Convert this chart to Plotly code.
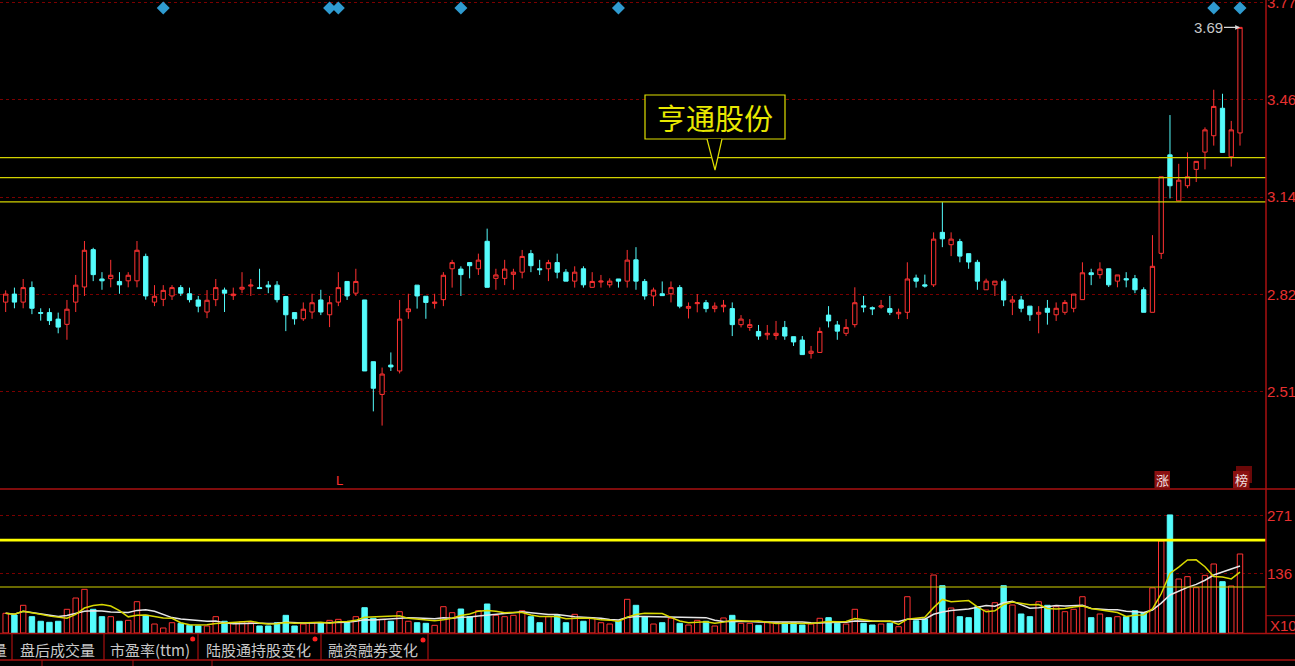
import plotly.graph_objects as go
import pandas as pd

# ---------------- data ----------------
days = list(range(142))
opens = [2.800,2.826,2.800,2.847,2.766,2.766,2.745,2.728,2.800,2.849,
         2.970,2.875,2.876,2.867,2.869,2.869,2.948,2.800,2.809,2.820,
         2.847,2.827,2.807,2.768,2.808,2.839,2.821,2.842,2.852,2.847,
         2.855,2.855,2.818,2.766,2.746,2.768,2.807,2.759,2.800,2.867,
         2.829,2.807,2.607,2.501,2.596,2.577,2.769,2.855,2.819,2.796,
         2.808,2.908,2.907,2.928,2.908,2.997,2.877,2.877,2.890,2.897,
         2.957,2.908,2.908,2.928,2.897,2.868,2.908,2.848,2.865,2.856,
         2.875,2.868,2.937,2.867,2.820,2.827,2.827,2.847,2.780,2.795,
         2.798,2.779,2.785,2.779,2.727,2.718,2.705,2.694,2.692,2.718,
         2.688,2.677,2.634,2.637,2.758,2.726,2.699,2.727,2.788,2.782,
         2.784,2.779,2.762,2.767,2.878,2.856,2.856,3.026,2.986,2.996,
         2.957,2.929,2.840,2.856,2.868,2.800,2.807,2.787,2.761,2.780,
         2.759,2.767,2.780,2.808,2.895,2.889,2.908,2.868,2.876,2.876,
         2.840,2.767,2.958,3.277,3.128,3.177,3.230,3.286,3.339,3.428,
         3.271,3.348]
highs = [2.838,2.847,2.875,2.867,2.780,2.780,2.766,2.807,2.888,2.998,
         2.976,2.897,2.937,2.897,2.897,2.998,2.957,2.855,2.855,2.855,
         2.855,2.847,2.820,2.839,2.875,2.847,2.847,2.897,2.875,2.908,
         2.868,2.868,2.820,2.766,2.799,2.827,2.840,2.820,2.897,2.867,
         2.908,2.807,2.607,2.588,2.637,2.807,2.827,2.855,2.819,2.827,
         2.897,2.937,2.916,2.928,2.957,3.038,2.908,2.937,2.908,2.969,
         2.969,2.937,2.937,2.957,2.907,2.916,2.916,2.897,2.888,2.877,
         2.875,2.969,2.978,2.875,2.847,2.867,2.867,2.855,2.799,2.826,
         2.807,2.799,2.807,2.799,2.758,2.745,2.726,2.726,2.739,2.739,
         2.688,2.690,2.658,2.718,2.787,2.739,2.745,2.848,2.820,2.786,
         2.807,2.820,2.779,2.929,2.889,2.889,3.026,3.124,3.026,3.005,
         2.957,2.937,2.876,2.868,2.876,2.820,2.820,2.787,2.787,2.807,
         2.799,2.807,2.826,2.929,2.908,2.929,2.908,2.888,2.897,2.888,
         2.848,3.017,3.206,3.406,3.248,3.285,3.256,3.366,3.488,3.475,
         3.387,3.690]
lows = [2.768,2.780,2.780,2.761,2.740,2.726,2.699,2.678,2.768,2.820,
        2.868,2.840,2.848,2.827,2.848,2.848,2.808,2.787,2.787,2.807,
        2.820,2.799,2.767,2.748,2.787,2.768,2.807,2.829,2.820,2.843,
        2.829,2.799,2.706,2.727,2.739,2.746,2.758,2.719,2.787,2.807,
        2.820,2.577,2.446,2.400,2.577,2.569,2.746,2.779,2.746,2.779,
        2.787,2.847,2.820,2.877,2.888,2.848,2.840,2.855,2.840,2.877,
        2.897,2.888,2.868,2.877,2.868,2.847,2.847,2.847,2.847,2.847,
        2.847,2.847,2.840,2.808,2.787,2.820,2.799,2.780,2.747,2.767,
        2.767,2.767,2.767,2.690,2.718,2.707,2.678,2.678,2.678,2.678,
        2.658,2.630,2.617,2.637,2.718,2.678,2.690,2.718,2.767,2.758,
        2.779,2.758,2.745,2.745,2.847,2.847,2.849,2.978,2.949,2.929,
        2.908,2.840,2.840,2.820,2.787,2.758,2.767,2.739,2.699,2.727,
        2.739,2.759,2.767,2.808,2.855,2.876,2.849,2.848,2.848,2.829,
        2.767,2.767,2.940,3.136,3.128,3.169,3.189,3.230,3.307,3.285,
        3.239,3.307]
closes = [2.826,2.800,2.847,2.780,2.764,2.740,2.719,2.777,2.855,2.968,
          2.889,2.869,2.887,2.856,2.887,2.968,2.820,2.819,2.838,2.847,
          2.829,2.808,2.787,2.806,2.847,2.829,2.826,2.848,2.855,2.844,
          2.849,2.808,2.759,2.746,2.777,2.798,2.768,2.798,2.847,2.820,
          2.867,2.577,2.521,2.567,2.590,2.745,2.778,2.820,2.799,2.800,
          2.887,2.928,2.889,2.918,2.936,2.848,2.888,2.907,2.897,2.948,
          2.918,2.905,2.928,2.897,2.868,2.897,2.856,2.867,2.868,2.868,
          2.868,2.936,2.868,2.820,2.839,2.821,2.847,2.787,2.786,2.798,
          2.779,2.787,2.790,2.727,2.745,2.727,2.690,2.699,2.699,2.690,
          2.671,2.630,2.641,2.705,2.739,2.706,2.718,2.798,2.784,2.778,
          2.788,2.767,2.767,2.875,2.868,2.852,3.004,3.005,3.004,2.949,
          2.930,2.868,2.868,2.868,2.807,2.807,2.780,2.759,2.767,2.767,
          2.780,2.799,2.826,2.895,2.889,2.907,2.856,2.888,2.872,2.840,
          2.767,2.916,3.206,3.177,3.195,3.206,3.256,3.358,3.434,3.285,
          3.358,3.690]
volumes = [45.4,41.5,63.8,37.6,27,24.6,27,54.6,80.6,100.6,
           54.6,37.6,37.6,27,29.2,72.1,40.7,20.7,11.5,23.7,
           22.3,17.7,16.1,16.1,37.6,27,22.3,26,23.7,16.1,
           16.1,23.7,40.7,16.1,20.7,23.7,23.7,29.2,31.5,23.7,
           37.6,58.3,33.9,31.5,27,49.1,27,23.7,22.3,17.7,
           60.6,46.8,55.3,37.6,51.4,66.8,40.7,37.6,40.7,51.4,
           37.6,23.7,37.6,40.7,23.7,43,27,33.9,23.7,20.7,
           27,77.6,63.8,37.6,20.7,23.7,33.9,22.3,18.4,29.2,
           27,16.1,34.6,40.7,22.3,22.3,17.7,23.7,23.7,23.7,
           23.7,18.4,20.7,33.9,35.3,22.3,20.7,54.6,22.3,18.4,
           20.7,22.3,14.5,83.6,28.3,32.3,133.6,109,57.6,37.6,
           35.3,60.6,53,69.8,109,64.5,43.8,37.6,72.1,63.8,
           60.6,49.1,54.6,83.6,35.3,43.8,35.3,37.6,37.6,51.4,
           46.8,104,212,272,124.4,129.8,104.4,132.9,159,118.2,
           108.3,182]

price_ticks = [3.77, 3.455, 3.14, 2.825, 2.51]
price_tick_text = ["3.77", "3.46", "3.14", "2.82", "2.51"]
vol_ticks = [271, 136]
vol_tick_text = ["271", "136"]
price_levels = [3.268, 3.203, 3.125]
vol_levels = [214, 106]
signal_days = [18, 37, 38, 52, 70, 138, 141]
signal_level = 3.753
stock_name = "亨通股份"
last_label = "3.69"
tabs = ["盘后成交量", "市盈率(ttm)", "陆股通持股变化", "融资融券变化"]

# ---------------- styling ----------------
W, H = 1295, 666
PL, PR, PT, PB = 0, 29, 0, 33
PW, PH = W - PL - PR, H - PT - PB
UP = "#ff3232"
DOWN = "#54fcfc"
FRAME = "#a81010"
GRID = "#7a0000"
TXT_RED = "#e83030"
CJK = "Noto Sans CJK SC"
LAT = "Liberation Sans"


def px(x):
    return x / PW


def py(y):
    return (PH - y) / PH


vol_s = pd.Series(volumes)
ma5 = vol_s.rolling(5, min_periods=1).mean()
ma10 = vol_s.rolling(10, min_periods=1).mean()
is_up = [c >= o for o, c in zip(opens, closes)]

fig = go.Figure()

fig.add_trace(go.Candlestick(
    x=days, open=opens, high=highs, low=lows, close=closes,
    increasing=dict(line=dict(color=UP, width=1), fillcolor="#000000"),
    decreasing=dict(line=dict(color=DOWN, width=1), fillcolor=DOWN),
    whiskerwidth=0, xaxis="x", yaxis="y", hoverinfo="skip", showlegend=False))

fig.add_trace(go.Scatter(
    x=signal_days, y=[signal_level] * len(signal_days), mode="markers",
    marker=dict(symbol="diamond", size=10, color="#2f9bd0"),
    xaxis="x", yaxis="y", hoverinfo="skip", showlegend=False))

fig.add_trace(go.Bar(
    x=days, y=volumes, width=0.62,
    marker=dict(color=["#000000" if u else DOWN for u in is_up],
                line=dict(color=[UP if u else DOWN for u in is_up], width=1)),
    xaxis="x2", yaxis="y2", hoverinfo="skip", showlegend=False))

fig.add_trace(go.Scatter(x=days, y=ma10, mode="lines",
                         line=dict(color="#e6e6e6", width=1.5),
                         xaxis="x2", yaxis="y2", hoverinfo="skip", showlegend=False))
fig.add_trace(go.Scatter(x=days, y=ma5, mode="lines",
                         line=dict(color="#d8d800", width=1.5),
                         xaxis="x2", yaxis="y2", hoverinfo="skip", showlegend=False))

xr = [-0.648, 143.97]
split = py(489)
fig.update_layout(
    width=W, height=H,
    margin=dict(l=PL, r=PR, t=PT, b=PB, autoexpand=False),
    paper_bgcolor="#000000", plot_bgcolor="#000000",
    showlegend=False, boxgap=0.3,
    xaxis=dict(domain=[0, 1], range=xr, visible=False, rangeslider=dict(visible=False),
               anchor="y"),
    xaxis2=dict(domain=[0, 1], range=xr, visible=False, anchor="y2", matches="x"),
    yaxis=dict(domain=[split, 1], range=[2.1946, 3.7787], side="right",
               tickvals=price_ticks, ticktext=price_tick_text, ticks="",
               tickfont=dict(color=TXT_RED, size=15, family=LAT),
               ticklabeloverflow="allow", automargin=False,
               showgrid=True, gridcolor=GRID, griddash="dot", gridwidth=1,
               zeroline=False, showline=False, anchor="x"),
    yaxis2=dict(domain=[0, split], range=[0, 331.8], side="right",
                tickvals=vol_ticks, ticktext=vol_tick_text, ticks="",
                tickfont=dict(color=TXT_RED, size=15, family=LAT),
                ticklabeloverflow="allow", automargin=False,
                showgrid=True, gridcolor=GRID, griddash="dot", gridwidth=1,
                zeroline=False, showline=False, anchor="x2"),
)

shapes = []
for lv in price_levels:
    shapes.append(dict(type="line", xref="paper", yref="y", x0=0, x1=1, y0=lv, y1=lv,
                       line=dict(color="#d2d200", width=1.3)))
shapes.append(dict(type="line", xref="paper", yref="y2", x0=0, x1=1,
                   y0=vol_levels[0], y1=vol_levels[0], line=dict(color="#ffff00", width=2.6)))
shapes.append(dict(type="line", xref="paper", yref="y2", x0=0, x1=1,
                   y0=vol_levels[1], y1=vol_levels[1], line=dict(color="#d2d200", width=1.2)))
# frame lines
xe = px(W)
for yy in (489, 633.5, 660):
    shapes.append(dict(type="line", xref="paper", yref="paper", x0=0, x1=xe,
                       y0=py(yy), y1=py(yy), line=dict(color=FRAME, width=1.5)))
shapes.append(dict(type="line", xref="paper", yref="paper", x0=px(1266), x1=px(1266),
                   y0=py(0), y1=py(633.5), line=dict(color=FRAME, width=1.5)))
shapes.append(dict(type="line", xref="paper", yref="paper", x0=px(1266), x1=xe,
                   y0=py(615.7), y1=py(615.7), line=dict(color=FRAME, width=1)))
for xx in (12, 104, 198, 321, 428):
    shapes.append(dict(type="line", xref="paper", yref="paper", x0=px(xx), x1=px(xx),
                       y0=py(633.5), y1=py(660), line=dict(color=FRAME, width=1.2)))
for xx in (42, 133, 212):
    shapes.append(dict(type="line", xref="paper", yref="paper", x0=px(xx), x1=px(xx),
                       y0=py(660), y1=py(666), line=dict(color=FRAME, width=1)))
for (xx, yy) in ((192.7, 639), (315, 639), (423, 640)):
    shapes.append(dict(type="circle", xref="paper", yref="paper",
                       x0=px(xx - 2.5), x1=px(xx + 2.5), y0=py(yy + 2.5), y1=py(yy - 2.5),
                       fillcolor="#ff2020", line=dict(width=0)))
# name callout
shapes.append(dict(type="rect", xref="paper", yref="paper",
                   x0=px(645), x1=px(785), y0=py(139), y1=py(95),
                   fillcolor="#000000", line=dict(color="#e0e000", width=1.2)))
shapes.append(dict(type="path", xref="paper", yref="paper",
                   path=f"M {px(707)},{py(139)} L {px(715)},{py(170)} L {px(722)},{py(139)}",
                   fillcolor="#000000", line=dict(color="#e0e000", width=1.2)))
# tag backgrounds
shapes.append(dict(type="rect", xref="paper", yref="paper",
                   x0=px(1154.5), x1=px(1170), y0=py(488), y1=py(471),
                   fillcolor="#8a1010", line=dict(width=0)))
shapes.append(dict(type="rect", xref="paper", yref="paper",
                   x0=px(1236), x1=px(1252), y0=py(483), y1=py(466),
                   fillcolor="#6a0808", line=dict(width=0)))
shapes.append(dict(type="rect", xref="paper", yref="paper",
                   x0=px(1233), x1=px(1249.5), y0=py(488), y1=py(471),
                   fillcolor="#8a1010", line=dict(width=0)))
fig.update_layout(shapes=shapes)

ann = []
ann.append(dict(xref="paper", yref="paper", x=px(715), y=py(117), text=stock_name,
                showarrow=False, font=dict(color="#e8e800", size=29, family=CJK),
                xanchor="center", yanchor="middle"))
ann.append(dict(xref="x", yref="y", x=days[-1], y=highs[-1], text=last_label,
                showarrow=True, ax=-32, ay=0, arrowhead=2, arrowsize=0.8, arrowwidth=1.2,
                arrowcolor="#d8d8d8", standoff=0,
                font=dict(color="#c8c8c8", size=15, family=LAT)))
ann.append(dict(xref="paper", yref="paper", x=px(339), y=py(480), text="L",
                showarrow=False, font=dict(color="#ff3030", size=13, family=LAT),
                xanchor="center", yanchor="middle"))
ann.append(dict(xref="paper", yref="paper", x=px(1162), y=py(479.5), text="涨",
                showarrow=False, font=dict(color="#f0e0e0", size=13, family=CJK),
                xanchor="center", yanchor="middle"))
ann.append(dict(xref="paper", yref="paper", x=px(1241), y=py(479.5), text="榜",
                showarrow=False, font=dict(color="#f0e0e0", size=13, family=CJK),
                xanchor="center", yanchor="middle"))
ann.append(dict(xref="paper", yref="paper", x=px(1268), y=py(625), text="X10",
                showarrow=False, font=dict(color=TXT_RED, size=15, family=LAT),
                xanchor="left", yanchor="middle"))
ann.append(dict(xref="paper", yref="paper", x=px(9), y=py(649), text="成交量",
                showarrow=False, font=dict(color="#c8c8c8", size=15, family=CJK),
                xanchor="right", yanchor="middle"))
for t, cx in zip(tabs, (57, 150, 258, 373)):
    ann.append(dict(xref="paper", yref="paper", x=px(cx), y=py(649), text=t,
                    showarrow=False, font=dict(color="#c8c8c8", size=15, family=CJK),
                    xanchor="center", yanchor="middle"))
fig.update_layout(annotations=ann)

fig.write_html("out.html",
               config={"displayModeBar": False, "staticPlot": True},
               post_script="document.body.style.margin='0px';"
                           "document.body.style.background='#000000';")
